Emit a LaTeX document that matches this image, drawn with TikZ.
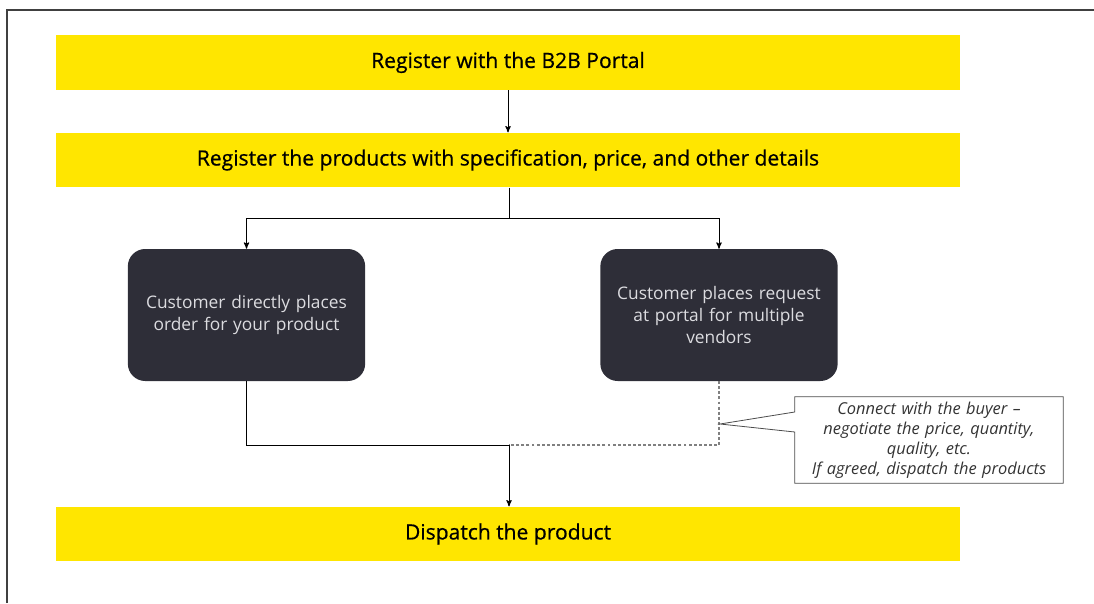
\documentclass[tikz,border=0pt]{standalone}
\usepackage{fontspec}
\setmainfont{Open Sans}
\usepackage{tikz}
\usetikzlibrary{arrows,shapes,positioning}
\definecolor{portalyellow}{HTML}{FFE600}
\definecolor{portaldark}{HTML}{2E2E38}
\definecolor{boxtext}{HTML}{DCDCE0}

\begin{document}
\begin{tikzpicture}[x=0.75pt, y=-0.75pt, inner sep=0pt]
    \tikzstyle{bar}=[rectangle, fill=portalyellow, text=black, minimum width=678pt, minimum height=41pt, font=\fontsize{15.8}{18}\selectfont\addfontfeature{FakeBold=0.6}]
    \tikzstyle{choice}=[rectangle, rounded corners=13pt, fill=portaldark, text=boxtext, minimum width=178pt, minimum height=99pt, text width=170pt, align=center, font=\fontsize{13}{16.5}\selectfont]
    \tikzstyle{note}=[rectangle, minimum width=201pt, minimum height=64.5pt, text width=196pt, align=center, font=\fontsize{12.3}{15}\selectfont\itshape, text=black!80]
    \tikzstyle{flow}=[->, >=stealth', line width=0.75pt, black]
    \tikzstyle{link}=[line width=0.75pt, black]
    \tikzstyle{open}=[line width=0.9pt, gray, dash pattern=on 2.2pt off 1.6pt]

    \useasboundingbox (0,0) rectangle (1094,603);
    \draw[line width=1pt, black!75] (7,603) -- (7,10) -- (1094,10);

    \node[bar] (register) at (508,62.5) {Register with the B2B Portal};
    \node[bar] (products) at (508,160) {Register the products with specification, price, and other details};
    \node[choice] (direct) at (246.5,315) {Customer directly places\\order for your product};
    \node[choice] (request) at (719,315) {Customer places request\\at portal for multiple\\vendors};
    \node[bar] (dispatch) at (508,534) {Dispatch the product};
    \node[note] (buyer) at (929,440) {Connect with the buyer --\\negotiate the price, quantity,\\quality, etc.\\If agreed, dispatch the products};

    \coordinate (fork) at (509,218);
    \coordinate (join) at (509,445);
    \coordinate (tip) at (720,424);

    \draw[flow] (register) -- (products);
    \draw[link] (products.south -| fork) -- (fork);
    \draw[flow] (fork) -| (direct.north);
    \draw[flow] (fork) -| (request.north);
    \draw[link] (direct.south) |- (join);
    \draw[open] (request.south) |- (join);
    \draw[flow] (join) -- (dispatch.north -| join);

    % callout round the note
    \draw[line width=0.6pt, black!70] (buyer.west |- 0,412) -- (tip) -- (buyer.west |- 0,432)
        -- (buyer.south west) -- (buyer.south east) -- (buyer.north east) -- (buyer.north west) -- cycle;
\end{tikzpicture}
\end{document}
